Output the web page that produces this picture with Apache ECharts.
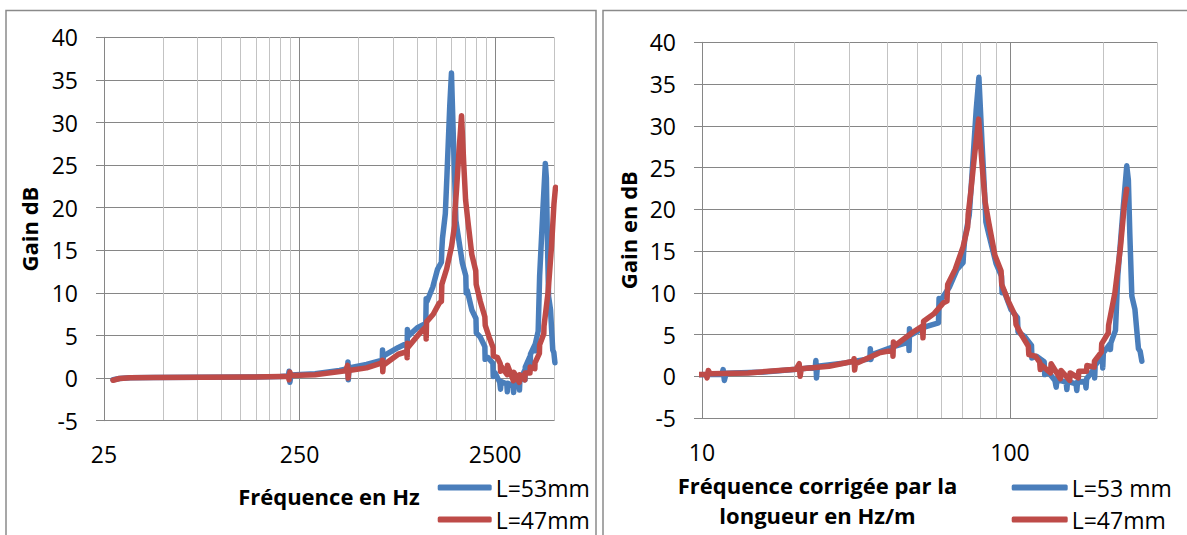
<!DOCTYPE html>
<html>
<head>
<meta charset="utf-8">
<script src="https://cdn.jsdelivr.net/npm/echarts@6/dist/echarts.min.js"></script>
<style>
html,body{margin:0;padding:0;background:#fff;}
#c{width:1187px;height:535px;}
</style>
</head>
<body>
<div id="c"></div>
<script>
// Tube lengths (m): right panel abscissa = frequency x length
const L53 = 0.053;
const L47 = 0.047;

// [frequency Hz, gain dB]
const data53 = [
  [27.8,-0.2],[30,-0.05],[34,0.05],[45,0.08],[80,0.1],[140,0.12],[200,0.2],[219,0.25],[221,0.8],[223,-0.5],[226,0.35],
  [300,0.5],[400,0.9],[440,1.1],[442,1.9],[444,-0.2],[447,1.2],
  [550,1.6],[662,2.1],[664,3.3],[667,2.0],[672,2.6],
  [800,3.6],[885,4.1],[887,3.1],[890,5.7],[895,4.9],
  [1000,5.9],[1105,6.4],[1110,9.3],[1120,9.0],
  [1200,10.7],[1270,12.8],[1328,13.6],[1335,15.1],[1345,16.4],
  [1391,19.3],[1419,24.0],[1465,31.9],[1495,35.8],[1530,28.0],[1560,22.0],[1575,18.5],
  [1610,17.0],[1700,13.5],[1770,12.0],[1778,10.0],[1800,10.3],
  [1900,8.0],[1995,7.0],[2003,5.3],[2100,4.8],
  [2215,3.7],[2222,2.2],[2300,2.4],
  [2435,1.75],[2445,0.2],[2500,0.6],
  [2640,-0.5],[2664,-1.3],[2680,-0.4],
  [2870,-0.7],[2886,-1.6],[2900,-0.6],
  [3090,-0.9],[3108,-1.7],[3125,-0.7],
  [3310,-0.6],[3330,-1.4],[3345,-0.3],
  [3540,0.9],[3552,-0.2],[3565,1.3],
  [3760,2.5],[3774,1.0],[3790,2.8],
  [3990,3.9],[3996,3.2],[4010,4.0],
  [4150,5.5],[4222,12.0],[4395,20.1],[4515,25.2],
  [4570,23.5],[4620,17.0],[4690,9.6],[4800,8.0],[4880,5.0],[4928,3.3],[4990,3.0],[5055,1.8]
];
const data47 = [
  [27.8,-0.25],[30,-0.05],[34,0.05],[45,0.08],[80,0.1],[140,0.12],[200,0.2],[219,0.22],[221,-0.2],[223,0.7],[226,0.3],
  [300,0.4],[430,0.85],[440,1.5],[443,0.0],[447,0.9],
  [550,1.2],[660,1.8],[663,2.1],[666,0.75],[670,1.5],
  [800,2.8],[885,3.1],[887,2.4],[890,4.1],[895,3.6],
  [1031,5.3],[1105,6.0],[1110,4.6],[1115,6.6],
  [1206,7.5],[1294,8.8],[1328,9.0],[1335,11.0],
  [1412,12.8],[1498,15.5],[1550,17.9],[1556,19.4],
  [1587,22.1],[1631,26.4],[1683,30.8],[1731,24.8],[1766,20.9],
  [1817,18.3],[1900,14.5],[1990,12.6],[2000,11.0],
  [2100,9.0],[2215,7.2],[2225,6.2],[2330,4.8],[2440,3.6],[2448,2.6],
  [2571,2.4],[2655,1.7],[2667,0.8],[2680,1.4],
  [2880,0.4],[2892,1.5],[3100,-0.3],[3112,0.7],[3325,-0.5],[3335,0.4],
  [3545,-0.2],[3558,0.6],[3768,0.6],[3780,1.3],[3990,1.1],[4000,1.8],
  [4210,2.9],[4222,3.9],[4435,5.2],[4445,6.1],[4660,10.0],[4855,15.4],[5000,20.5],[5090,22.4]
];

// axis ranges and ticks
const leftRange = [25, 5000];
const rightRange = [10, 300];
const leftLabels = [25, 250, 2500];
const rightLabels = [10, 100];
const leftGrid = [25,50,75,100,125,150,175,200,225,250,500,750,1000,1250,1500,1750,2000,2250,2500,5000];
const rightGrid = [10,20,30,40,50,60,70,80,90,100,200,300];
const leftMajor = [25, 250, 2500];
const rightMajor = [10, 100];

// legend labels
const leftNames = ['L=53mm', 'L=47mm'];
const rightNames = ['L=53 mm', 'L=47mm'];

const FONT = 'Open Sans';
const DARK = '#868686';
const LIGHT = '#c3c3c3';
const BLUE = '#4a7ebb';
const RED = '#be4b48';
const lg = Math.log10;

function toLeft(arr){ return arr.map(p => [lg(p[0]), p[1]]); }
function toRight(arr, L){ return arr.map(p => [lg(p[0]*L), p[1]]); }
function gridColors(list, major){ return list.map(v => major.indexOf(v) >= 0 ? DARK : LIGHT); }

function xAxisDef(gi, range, labels, grid, major, name, nameGap, namePad){
  return {
    type: 'value', gridIndex: gi,
    min: lg(range[0]), max: lg(range[1]),
    name: name, nameLocation: 'middle', nameGap: nameGap,
    nameTextStyle: {fontFamily: FONT, fontWeight: 'bold', fontSize: 22, color: '#000', lineHeight: 30, padding: namePad},
    axisLine: {show: true, onZero: false, lineStyle: {color: DARK, width: 1}},
    axisTick: {show: false, customValues: grid.map(lg)},
    axisLabel: {customValues: labels.map(lg), margin: 22, fontFamily: FONT, fontSize: 23, color: '#000',
      formatter: v => String(Math.round(Math.pow(10, v)))},
    splitLine: {show: true, lineStyle: {color: gridColors(grid, major), width: 1}}
  };
}
function yAxisDef(gi, name, nameGap){
  return {
    type: 'value', gridIndex: gi, min: -5, max: 40, interval: 5,
    name: name, nameLocation: 'middle', nameGap: nameGap,
    nameTextStyle: {fontFamily: FONT, fontWeight: 'bold', fontSize: 22, color: '#000'},
    axisLine: {show: true, onZero: false, lineStyle: {color: DARK, width: 1}},
    axisTick: {show: true, inside: false, length: 8, lineStyle: {color: DARK}},
    axisLabel: {margin: 26, fontFamily: FONT, fontSize: 23, color: '#000'},
    splitLine: {show: true, lineStyle: {color: DARK, width: 1}}
  };
}
function lineSeries(name, xi, data, color){
  return {
    type: 'line', name: name, xAxisIndex: xi, yAxisIndex: xi, data: data,
    symbol: 'none', smooth: false, clip: true, animation: false,
    lineStyle: {color: color, width: 5.5, cap: 'round', join: 'round'},
    itemStyle: {color: color}
  };
}
function legendDef(name, left, top, w){
  return {
    data: [name], left: left, top: top, itemWidth: w, itemHeight: 6, itemGap: 0,
    icon: 'roundRect', selectedMode: false,
    textStyle: {fontFamily: FONT, fontSize: 23, color: '#000', padding: [0,0,6,-1]}
  };
}

const chart = echarts.init(document.getElementById('c'), null, {renderer: 'svg'});
chart.setOption({
  backgroundColor: '#fff',
  animation: false,
  grid: [
    {left: 104, top: 37.3, width: 450, height: 383.4, containLabel: false},
    {left: 702, top: 42.3, width: 455, height: 381.7, containLabel: false}
  ],
  xAxis: [
    xAxisDef(0, leftRange, leftLabels, leftGrid, leftMajor, 'Fréquence en Hz', 60, [0,0,0,0]),
    xAxisDef(1, rightRange, rightLabels, rightGrid, rightMajor, 'Fréquence corrigée par la\nlongueur en Hz/m', 52, [0,224,0,0])
  ],
  yAxis: [
    yAxisDef(0, 'Gain dB', 64),
    yAxisDef(1, 'Gain en dB', 63)
  ],
  legend: [
    legendDef(leftNames[0], 432.7, 471, 54),
    legendDef(leftNames[1], 432.7, 503, 54),
    legendDef(rightNames[0], 1006.7, 471, 56),
    legendDef(rightNames[1], 1006.7, 503, 56)
  ],
  graphic: [
    {type: 'rect', shape: {x: 6, y: 10.5, width: 590, height: 600}, style: {fill: 'none', stroke: '#8a8a8a', lineWidth: 1.5}, silent: true},
    {type: 'rect', shape: {x: 603, y: 10.5, width: 600, height: 600}, style: {fill: 'none', stroke: '#8a8a8a', lineWidth: 1.5}, silent: true}
  ],
  series: [
    lineSeries(leftNames[0], 0, toLeft(data53), BLUE),
    lineSeries(leftNames[1], 0, toLeft(data47), RED),
    lineSeries(rightNames[0], 1, toRight(data53, L53), BLUE),
    lineSeries(rightNames[1], 1, toRight(data47, L47), RED)
  ]
});
</script>
</body>
</html>
